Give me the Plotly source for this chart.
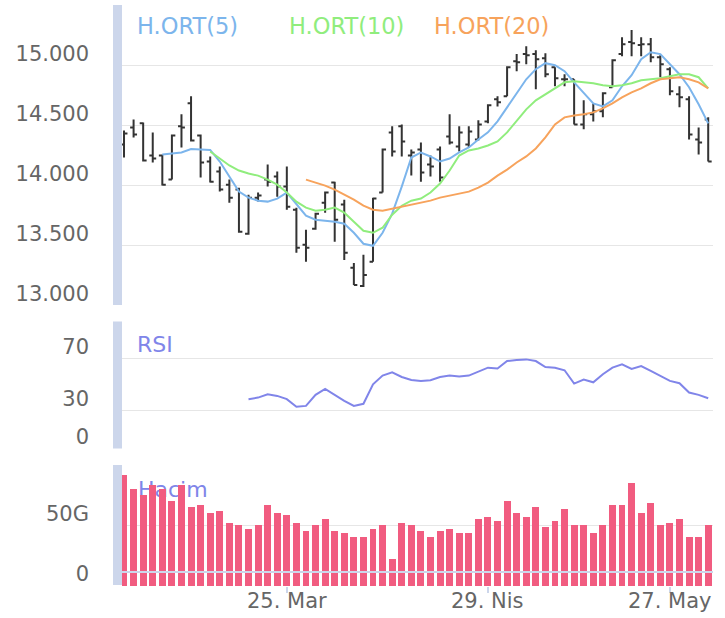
import pandas as pd
import plotly.graph_objects as go

# ---------------- data ----------------
holidays = ["2024-04-10", "2024-04-11", "2024-04-12", "2024-04-23", "2024-05-01"]
dates = [d.strftime("%Y-%m-%d") for d in pd.bdate_range("2024-02-29", "2024-05-31")
         if d.strftime("%Y-%m-%d") not in holidays]

open_ = [14342, 14483, 14517, 14250, 14250, 14050, 14492, 14683, 14417, 14200,
         14117, 14008, 13967, 13600, 13900, 14050, 14075, 13992, 13800, 13508,
         13642, 13858, 14025, 13842, 13317, 13167, 13367, 13942, 14442, 14492,
         14250, 14300, 14175, 14300, 14408, 14325, 14342, 14383, 14533, 14717,
         14742, 15033, 15092, 15092, 15058, 14983, 14883, 14883, 14508, 14592,
         14617, 14817, 15092, 15192, 15167, 15175, 15067, 14967, 14758, 14717,
         14383, 14550]
high = [14458, 14550, 14525, 14442, 14258, 14425, 14592, 14742, 14425, 14242,
        14158, 14050, 13983, 13925, 13942, 14175, 14117, 14158, 13817, 13633,
        13775, 13950, 14033, 13883, 13358, 13425, 13900, 14308, 14492, 14508,
        14300, 14358, 14250, 14325, 14592, 14492, 14492, 14542, 14675, 14742,
        14992, 15092, 15158, 15125, 15100, 14983, 14925, 14883, 14708, 14683,
        14775, 15050, 15233, 15292, 15233, 15225, 15083, 14983, 14825, 14742,
        14483, 14567]
low = [14233, 14400, 14200, 14192, 14000, 14050, 14317, 14367, 14067, 14025,
       13950, 13858, 13608, 13592, 13867, 13992, 13908, 13800, 13442, 13367,
       13633, 13775, 13533, 13383, 13175, 13158, 13367, 13942, 14242, 14242,
       14083, 14033, 14075, 14033, 14342, 14283, 14317, 14375, 14517, 14658,
       14742, 14950, 15008, 14800, 14900, 14825, 14825, 14508, 14467, 14533,
       14567, 14817, 15075, 15075, 15075, 15025, 14900, 14750, 14650, 14383,
       14258, 14200]
close = [14433, 14425, 14208, 14225, 14008, 14417, 14483, 14375, 14192, 14033,
         13967, 13900, 13617, 13900, 13917, 14033, 13992, 13825, 13483, 13483,
         13767, 13942, 13717, 13442, 13175, 13258, 13892, 14300, 14283, 14367,
         14275, 14108, 14158, 14067, 14358, 14442, 14450, 14508, 14667, 14692,
         14983, 15025, 15083, 15050, 14925, 14892, 14883, 14508, 14592, 14617,
         14767, 15042, 15175, 15183, 15175, 15067, 15008, 14783, 14733, 14425,
         14358, 14200]

# H.ORT(5) from 5th session, H.ORT(10) from 10th, H.ORT(20) from 20th
ma5 = [14258, 14267, 14275, 14304, 14300, 14296, 14200, 14075, 13950, 13900,
       13875, 13867, 13892, 13942, 13842, 13750, 13717, 13708, 13700, 13683,
       13608, 13517, 13500, 13608, 13767, 13992, 14233, 14275, 14242, 14200,
       14225, 14275, 14317, 14383, 14442, 14533, 14650, 14775, 14883, 14967,
       15017, 15000, 14950, 14858, 14767, 14683, 14658, 14708, 14825, 14917,
       15050, 15108, 15092, 15008, 14925, 14817, 14675, 14517]
ma10 = [14283, 14225, 14167, 14125, 14100, 14083, 14050, 14008, 13942, 13867,
        13817, 13792, 13800, 13817, 13775, 13700, 13625, 13608, 13650, 13758,
        13833, 13875, 13892, 13942, 14017, 14125, 14250, 14292, 14308, 14333,
        14367, 14442, 14533, 14633, 14708, 14758, 14808, 14858, 14867, 14858,
        14850, 14833, 14825, 14833, 14850, 14875, 14883, 14892, 14908, 14925,
        14925, 14900, 14808]
ma20 = [14050, 14025, 14000, 13967, 13925, 13883, 13833, 13800, 13792, 13808,
        13825, 13842, 13858, 13875, 13900, 13917, 13933, 13950, 13983, 14025,
        14083, 14133, 14192, 14242, 14308, 14400, 14508, 14567, 14583, 14592,
        14608, 14642, 14683, 14733, 14775, 14808, 14850, 14883, 14892, 14900,
        14883, 14858, 14808]
rsi = [38.5, 39.7, 42.3, 41.0, 38.5, 32.6, 33.3, 41.8, 46.4, 41.8,
       37.2, 33.3, 34.9, 50.0, 56.7, 59.2, 55.6, 53.3, 52.6, 53.1,
       55.6, 56.7, 55.9, 56.7, 59.7, 62.8, 62.1, 67.9, 68.7, 69.2,
       67.9, 63.3, 62.8, 60.8, 50.5, 53.6, 51.5, 57.7, 62.8, 65.4,
       61.8, 64.1, 60.3, 56.4, 52.6, 50.8, 43.6, 41.8, 39.2]
volume_g = [92.5, 80.8, 75.8, 84.2, 80.8, 70.8, 84.2, 65.8, 67.5, 60.8,
            62.5, 52.5, 50.8, 47.5, 50.8, 67.5, 60.8, 59.2, 52.5, 45.8,
            50.8, 55.8, 45.8, 44.2, 40.8, 40.8, 47.5, 50.8, 22.5, 52.5,
            50.8, 45.8, 40.8, 45.8, 47.5, 44.2, 44.2, 55.8, 57.5, 54.2,
            70.8, 60.8, 57.5, 65.8, 49.2, 54.2, 64.2, 50.8, 50.8, 44.2,
            50.8, 67.5, 67.5, 85.8, 60.8, 69.2, 50.8, 52.5, 55.8, 40.8,
            40.8, 50.8]

tick_dates = ["2024-03-25", "2024-04-29", "2024-05-27"]
tick_labels = ["25. Mar", "29. Nis", "27. May"]
price_ticks = [13000, 13500, 14000, 14500, 15000, 15500]
price_labels = ["13.000", "13.500", "14.000", "14.500", "15.000", ""]
rsi_ticks = [0, 30, 70, 100]
rsi_labels = ["0", "30", "70", ""]
vol_ticks = [0, 50, 100]
vol_labels = ["0", "50G", ""]
legend_names = ["H.ORT(5)", "H.ORT(10)", "H.ORT(20)"]

# ---------------- layout geometry (pixels) ----------------
W, H = 725, 618
L, R, T, B = 122, 12, 5, 32
PW, PH = W - L - R, H - T - B
def px(x):
    return (x - L) / PW
def py(y):
    return (H - B - y) / PH

FONT = "DejaVu Sans"
GRID = "#e6e6e6"
BAND = "#ccd6eb"
LBL = "#666666"
c_ma5, c_ma10, c_ma20 = "#7cb5ec", "#90ed7d", "#f7a35c"
c_rsi, c_vol = "#8085e9", "#f15c80"

fig = go.Figure()
fig.add_trace(go.Ohlc(
    x=dates, open=open_, high=high, low=low, close=close,
    increasing=dict(line=dict(color="#333333", width=2)),
    decreasing=dict(line=dict(color="#333333", width=2)),
    tickwidth=0.36, xaxis="x", yaxis="y", hoverinfo="skip", showlegend=False))
fig.add_trace(go.Scatter(x=dates[4:], y=ma5, mode="lines",
                         line=dict(color=c_ma5, width=2), xaxis="x", yaxis="y", showlegend=False))
fig.add_trace(go.Scatter(x=dates[9:], y=ma10, mode="lines",
                         line=dict(color=c_ma10, width=2), xaxis="x", yaxis="y", showlegend=False))
fig.add_trace(go.Scatter(x=dates[19:], y=ma20, mode="lines",
                         line=dict(color=c_ma20, width=2), xaxis="x", yaxis="y", showlegend=False))
fig.add_trace(go.Scatter(x=dates[13:], y=rsi, mode="lines",
                         line=dict(color=c_rsi, width=2), xaxis="x", yaxis="y2", showlegend=False))
fig.add_trace(go.Bar(x=dates, y=volume_g, marker=dict(color=c_vol, line=dict(width=0)),
                     width=0.72, xaxis="x", yaxis="y3", showlegend=False))

yax_common = dict(showgrid=True, gridcolor=GRID, gridwidth=1, zeroline=False, showline=False,
                  ticks="", tickfont=dict(family=FONT, size=21, color=LBL),
                  ticklabelshift=-12, ticklabelstandoff=32, anchor="x", fixedrange=True)

fig.update_layout(
    width=W, height=H, margin=dict(l=L, r=R, t=T, b=B, autoexpand=False),
    paper_bgcolor="white", plot_bgcolor="rgba(0,0,0,0)",
    hovermode=False, showlegend=False, bargap=0,
    font=dict(family=FONT),
    xaxis=dict(type="category", categoryorder="array", categoryarray=dates,
               range=[-0.21, 61.5], anchor="y3", rangeslider=dict(visible=False),
               tickmode="array", tickvals=tick_dates, ticktext=tick_labels,
               showticklabels=False,
               ticks="outside", ticklen=6, tickwidth=2, tickcolor=BAND,
               showgrid=False, zeroline=False, showline=False),
    yaxis=dict(domain=[py(306), 1.0], range=[13000, 15500],
               tickmode="array", tickvals=price_ticks, ticktext=price_labels, **yax_common),
    yaxis2=dict(domain=[py(449), py(319.5)], range=[0, 100],
                tickmode="array", tickvals=rsi_ticks, ticktext=rsi_labels, **yax_common),
    yaxis3=dict(domain=[0, py(465.5)], range=[0, 100],
                tickmode="array", tickvals=vol_ticks, ticktext=vol_labels, **yax_common),
)

shapes = []
for y0, y1 in [(5, 305), (321.5, 448.5), (465, 585)]:
    shapes.append(dict(type="rect", xref="paper", yref="paper",
                       x0=px(113), x1=px(122), y0=py(y1), y1=py(y0),
                       fillcolor=BAND, line=dict(width=0), layer="above"))
shapes.append(dict(type="line", xref="paper", yref="paper", x0=0, x1=1,
                   y0=py(572), y1=py(572), line=dict(color=BAND, width=2), layer="above"))
shapes.append(dict(type="rect", xref="paper", yref="paper",
                   x0=px(135), x1=px(215), y0=py(498), y1=py(476),
                   fillcolor="rgba(0,0,0,0)", line=dict(width=0), layer="below",
                   label=dict(text="Hacim", textposition="middle left", padding=0,
                              font=dict(family=FONT, size=22, color=c_rsi))))
fig.update_layout(shapes=shapes)

ann = []
for name, x, col in zip(legend_names, [135, 287, 432], [c_ma5, c_ma10, c_ma20]):
    ann.append(dict(text=name, xref="paper", yref="paper", x=px(x), y=py(26),
                    xanchor="left", yanchor="middle", showarrow=False,
                    font=dict(family=FONT, size=22.5, color=col)))
ann.append(dict(text="RSI", xref="paper", yref="paper", x=px(135), y=py(344),
                xanchor="left", yanchor="middle", showarrow=False,
                font=dict(family=FONT, size=22, color=c_rsi)))
for d, t in zip(tick_dates, tick_labels):
    ann.append(dict(text=t, xref="x", yref="paper", x=d, y=py(601),
                    xanchor="center", yanchor="middle", showarrow=False,
                    font=dict(family=FONT, size=21, color=LBL)))
fig.update_layout(annotations=ann)

fig.write_html("out.html")
